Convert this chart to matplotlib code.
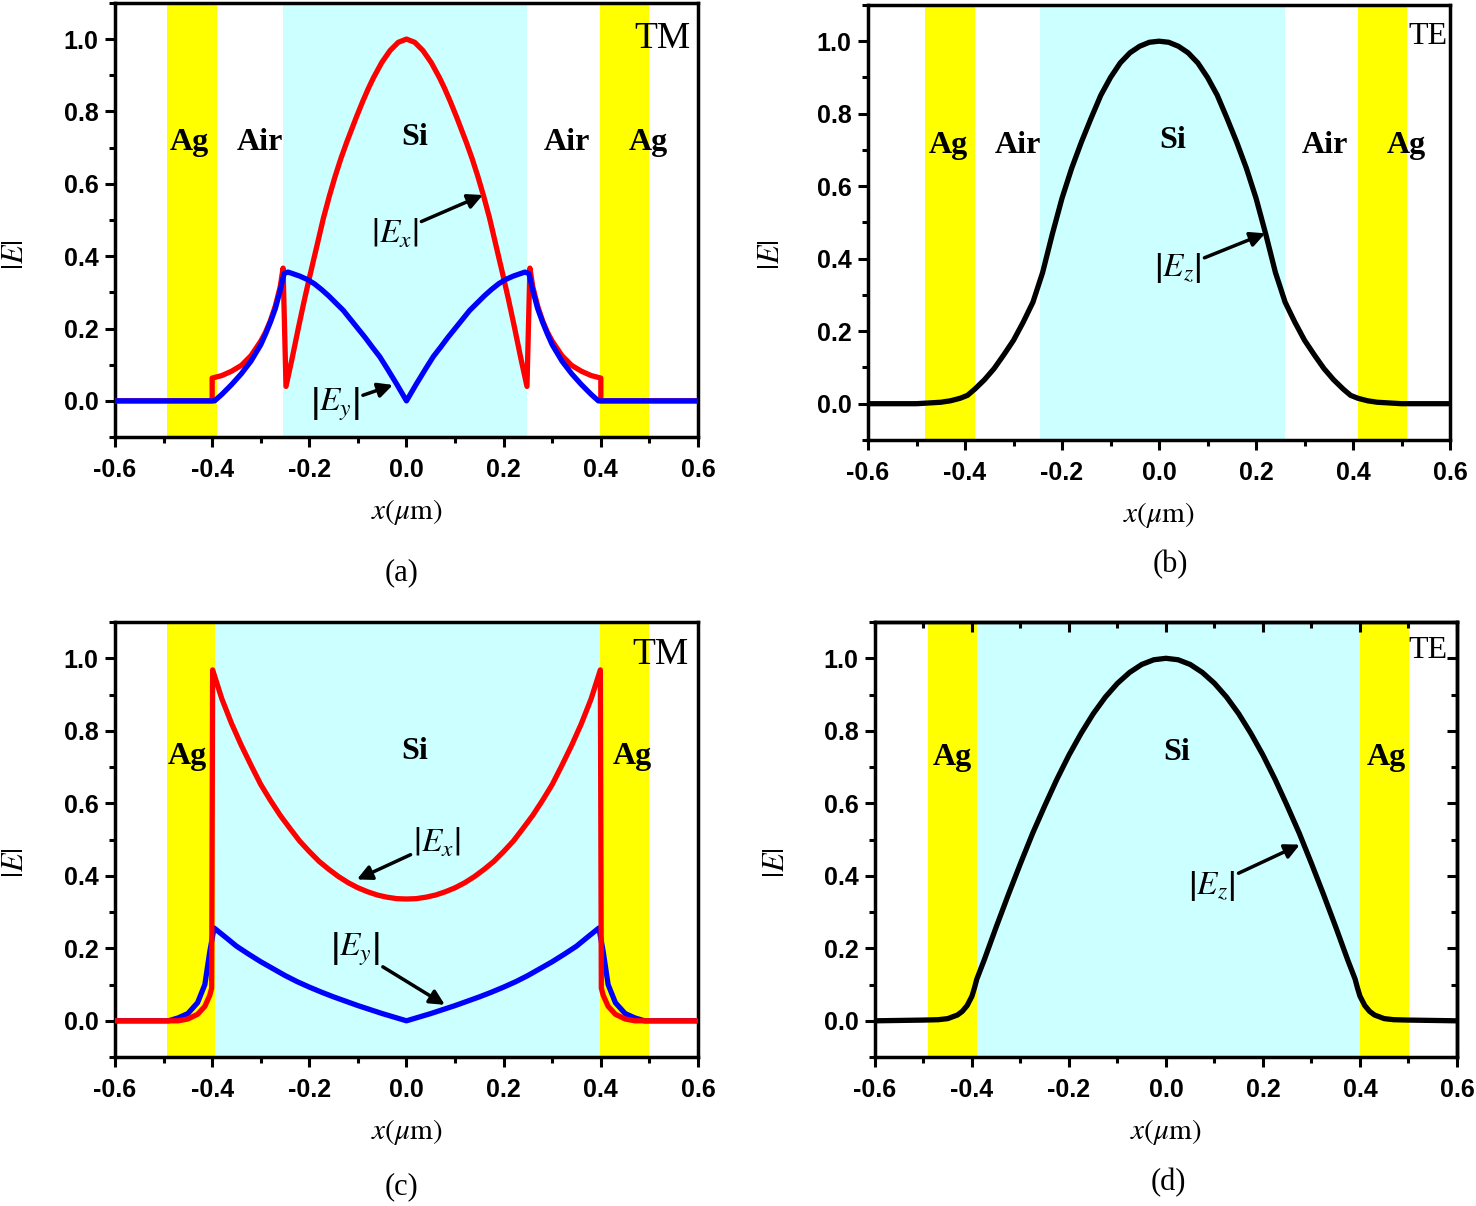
import matplotlib
matplotlib.use("Agg")
import matplotlib.pyplot as plt
from matplotlib.ticker import MultipleLocator, FormatStrFormatter, NullFormatter

plt.rcParams['mathtext.fontset'] = 'stix'
plt.rcParams['axes.unicode_minus'] = False

# ---- data ----
# (a) TM, Ag / Air / Si / Air / Ag
a_ex_x = [-0.6, -0.40, -0.40, -0.38, -0.36, -0.34, -0.32, -0.30, -0.29, -0.28, -0.27, -0.26, -0.254,
          -0.248, -0.235, -0.222, -0.21, -0.199, -0.185, -0.171, -0.159, -0.147, -0.135, -0.123,
          -0.113, -0.103, -0.09, -0.078, -0.068, -0.051, -0.034, -0.017, 0.0,
          0.017, 0.034, 0.051, 0.068, 0.078, 0.09, 0.103, 0.113, 0.123, 0.135, 0.147, 0.159,
          0.171, 0.185, 0.199, 0.21, 0.222, 0.235, 0.248,
          0.254, 0.26, 0.27, 0.28, 0.29, 0.30, 0.32, 0.34, 0.36, 0.38, 0.40, 0.40, 0.6]
a_ex_y = [0.0, 0.0, 0.063, 0.07, 0.082, 0.098, 0.125, 0.165, 0.19, 0.222, 0.262, 0.315, 0.367,
          0.04, 0.12, 0.205, 0.28, 0.345, 0.425, 0.505, 0.565, 0.62, 0.67, 0.715,
          0.75, 0.785, 0.828, 0.865, 0.893, 0.935, 0.968, 0.991, 1.0,
          0.991, 0.968, 0.935, 0.893, 0.865, 0.828, 0.785, 0.75, 0.715, 0.67, 0.62, 0.565,
          0.505, 0.425, 0.345, 0.28, 0.205, 0.12, 0.04,
          0.367, 0.315, 0.262, 0.222, 0.19, 0.165, 0.125, 0.098, 0.082, 0.07, 0.063, 0.0, 0.0]
a_ey_x = [-0.6, -0.395, -0.38, -0.36, -0.34, -0.32, -0.30, -0.29, -0.28, -0.27, -0.26, -0.252,
          -0.244, -0.235, -0.22, -0.205, -0.19, -0.175, -0.16, -0.145, -0.13, -0.115, -0.10,
          -0.085, -0.07, -0.055, -0.04, -0.02, 0.0,
          0.02, 0.04, 0.055, 0.07, 0.085, 0.10, 0.115, 0.13, 0.145, 0.16, 0.175, 0.19,
          0.205, 0.22, 0.235, 0.244,
          0.252, 0.26, 0.27, 0.28, 0.29, 0.30, 0.32, 0.34, 0.36, 0.38, 0.395, 0.6]
a_ey_y = [0.0, 0.0, 0.018, 0.045, 0.075, 0.11, 0.155, 0.185, 0.218, 0.255, 0.305, 0.352,
          0.356, 0.352, 0.345, 0.336, 0.324, 0.308, 0.29, 0.27, 0.25, 0.225, 0.2,
          0.175, 0.148, 0.122, 0.09, 0.046, 0.0,
          0.046, 0.09, 0.122, 0.148, 0.175, 0.2, 0.225, 0.25, 0.27, 0.29, 0.308, 0.324,
          0.336, 0.345, 0.352, 0.356,
          0.352, 0.305, 0.255, 0.218, 0.185, 0.155, 0.11, 0.075, 0.045, 0.018, 0.0, 0.0]

# (b) TE
b_ez_x = [-0.6, -0.50, -0.45, -0.43, -0.41, -0.395, -0.38, -0.36, -0.34, -0.32, -0.30, -0.28,
          -0.26, -0.24, -0.22, -0.20, -0.18, -0.16, -0.14, -0.12, -0.10, -0.08, -0.06,
          -0.04, -0.02, 0.0,
          0.02, 0.04, 0.06, 0.08, 0.10, 0.12, 0.14, 0.16, 0.18, 0.20, 0.22, 0.24,
          0.26, 0.28, 0.30, 0.32, 0.34, 0.36, 0.38, 0.395, 0.41, 0.43, 0.45, 0.50, 0.6]
b_ez_y = [0.0, 0.0, 0.004, 0.008, 0.015, 0.023, 0.04, 0.066, 0.097, 0.135, 0.175, 0.225,
          0.28, 0.362, 0.468, 0.567, 0.65, 0.722, 0.788, 0.851, 0.90, 0.94, 0.968,
          0.986, 0.997, 1.0,
          0.997, 0.986, 0.968, 0.94, 0.90, 0.851, 0.788, 0.722, 0.65, 0.567, 0.468, 0.362,
          0.28, 0.225, 0.175, 0.135, 0.097, 0.066, 0.04, 0.023, 0.015, 0.008, 0.004, 0.0, 0.0]

# (c) TM, Ag / Si / Ag
c_ex_x = [-0.6, -0.47, -0.45, -0.43, -0.415, -0.405, -0.401, -0.399,
          -0.38, -0.36, -0.34, -0.32, -0.30, -0.28, -0.26, -0.24, -0.22, -0.20, -0.18,
          -0.16, -0.14, -0.12, -0.10, -0.08, -0.06, -0.04, -0.02, 0.0,
          0.02, 0.04, 0.06, 0.08, 0.10, 0.12, 0.14, 0.16, 0.18, 0.20, 0.22, 0.24, 0.26,
          0.28, 0.30, 0.32, 0.34, 0.36, 0.38,
          0.399, 0.401, 0.405, 0.415, 0.43, 0.45, 0.47, 0.6]
c_ex_y = [0.0, 0.0, 0.005, 0.018, 0.04, 0.07, 0.09, 0.968,
          0.888, 0.82, 0.76, 0.705, 0.652, 0.608, 0.567, 0.531, 0.496, 0.467, 0.44,
          0.418, 0.398, 0.381, 0.367, 0.356, 0.347, 0.341, 0.337, 0.336,
          0.337, 0.341, 0.347, 0.356, 0.367, 0.381, 0.398, 0.418, 0.44, 0.467, 0.496, 0.531, 0.567,
          0.608, 0.652, 0.705, 0.76, 0.82, 0.888,
          0.968, 0.09, 0.07, 0.04, 0.018, 0.005, 0.0, 0.0]
c_ey_x = [-0.6, -0.49, -0.47, -0.45, -0.43, -0.415, -0.405, -0.396,
          -0.37, -0.35, -0.325, -0.30, -0.275, -0.25, -0.225, -0.20, -0.175, -0.15, -0.125,
          -0.10, -0.075, -0.05, -0.025, 0.0,
          0.025, 0.05, 0.075, 0.10, 0.125, 0.15, 0.175, 0.20, 0.225, 0.25, 0.275, 0.30,
          0.325, 0.35, 0.37,
          0.396, 0.405, 0.415, 0.43, 0.45, 0.47, 0.49, 0.6]
c_ey_y = [0.0, 0.0, 0.008, 0.02, 0.05, 0.10, 0.19, 0.256,
          0.228, 0.206, 0.184, 0.163, 0.144, 0.125, 0.108, 0.093, 0.079, 0.066, 0.054,
          0.042, 0.031, 0.02, 0.01, 0.0,
          0.01, 0.02, 0.031, 0.042, 0.054, 0.066, 0.079, 0.093, 0.108, 0.125, 0.144, 0.163,
          0.184, 0.206, 0.228,
          0.256, 0.19, 0.10, 0.05, 0.02, 0.008, 0.0, 0.0]

# (d) TE
d_ez_x = [-0.6, -0.5, -0.47, -0.45, -0.43, -0.42, -0.41, -0.40, -0.395, -0.39,
          -0.375, -0.35, -0.325, -0.30, -0.275, -0.25, -0.225, -0.20, -0.175, -0.15, -0.125,
          -0.10, -0.075, -0.05, -0.025, 0.0,
          0.025, 0.05, 0.075, 0.10, 0.125, 0.15, 0.175, 0.20, 0.225, 0.25, 0.275, 0.30,
          0.325, 0.35, 0.375,
          0.39, 0.395, 0.40, 0.41, 0.42, 0.43, 0.45, 0.47, 0.5, 0.6]
d_ez_y = [0.0, 0.002, 0.003, 0.006, 0.016, 0.026, 0.042, 0.068, 0.09, 0.115,
          0.167, 0.259, 0.348, 0.434, 0.517, 0.593, 0.666, 0.733, 0.793, 0.847, 0.893,
          0.931, 0.961, 0.983, 0.996, 1.0,
          0.996, 0.983, 0.961, 0.931, 0.893, 0.847, 0.793, 0.733, 0.666, 0.593, 0.517, 0.434,
          0.348, 0.259, 0.167,
          0.115, 0.09, 0.068, 0.042, 0.026, 0.016, 0.006, 0.003, 0.002, 0.0]

# layer boundaries (um)
a_ag = [(-0.493, -0.39), (0.398, 0.499)]
a_si = (-0.254, 0.248)
b_ag = [(-0.482, -0.379), (0.41, 0.511)]
b_si = (-0.245, 0.26)
c_ag = [(-0.493, -0.394), (0.398, 0.499)]
c_si = (-0.394, 0.398)
d_ag = [(-0.491, -0.39), (0.401, 0.502)]
d_si = (-0.39, 0.401)

YELLOW = '#FFFF00'
CYAN = '#CCFFFF'
SANS = 'Liberation Sans'
SERIF = 'Liberation Serif'

fig = plt.figure(figsize=(14.76, 12.06), dpi=100)
ax_a = fig.add_axes([0.0779, 0.6376, 0.395, 0.36])
ax_b = fig.add_axes([0.5881, 0.6352, 0.3943, 0.3607])
ax_c = fig.add_axes([0.0779, 0.1235, 0.395, 0.3607])
ax_d = fig.add_axes([0.5928, 0.1235, 0.3943, 0.3607])


def setup(ax, ag, si, ylab_x, ylab_y):
    for lo, hi in ag:
        ax.axvspan(lo, hi, color=YELLOW, lw=0, zorder=0)
    ax.axvspan(si[0], si[1], color=CYAN, lw=0, zorder=0)
    ax.set_xlim(-0.6, 0.6)
    ax.set_ylim(-0.1, 1.1)
    ax.xaxis.set_major_locator(MultipleLocator(0.2))
    ax.xaxis.set_minor_locator(MultipleLocator(0.1))
    ax.yaxis.set_minor_locator(MultipleLocator(0.1))
    ax.set_yticks([0.0, 0.2, 0.4, 0.6, 0.8, 1.0])
    ax.xaxis.set_major_formatter(FormatStrFormatter('%.1f'))
    ax.yaxis.set_major_formatter(FormatStrFormatter('%.1f'))
    for s in ax.spines.values():
        s.set_linewidth(2.5)
    ax.tick_params(which='major', direction='out', length=7, width=2.2)
    ax.tick_params(which='minor', direction='out', length=4, width=2.2)
    ax.tick_params(axis='x', which='major', pad=8)
    ax.tick_params(axis='y', which='major', pad=5)
    for lab in ax.get_xticklabels() + ax.get_yticklabels():
        lab.set_fontfamily(SANS)
        lab.set_fontweight('bold')
        lab.set_fontsize(18)
    ax.set_xlabel(r'$x(\mu\mathrm{m})$', fontsize=21, labelpad=11)
    ax.set_ylabel(r'$\left|E\right|$', fontsize=22)
    ax.yaxis.set_label_coords(ylab_x, ylab_y)


def layer_text(ax, items):
    for x, y, s in items:
        ax.text(x, y, s, ha='center', va='center', fontsize=23,
                fontfamily=SERIF, fontweight='bold', zorder=5)


arrow = dict(arrowstyle='-|>', color='k', lw=2.5, mutation_scale=22, shrinkA=0, shrinkB=0)
EX = r'$\left|E_x\right|$'
EY = r'$\left|E_y\right|$'
EZ = r'$\left|E_z\right|$'

# (a)
setup(ax_a, a_ag, a_si, -0.148, 0.42)
ax_a.plot(a_ex_x, a_ex_y, color='#FF0000', lw=3.8, zorder=3)
ax_a.plot(a_ey_x, a_ey_y, color='#0000FF', lw=3.8, zorder=4)
layer_text(ax_a, [(-0.446, 0.713, 'Ag'), (-0.302, 0.713, 'Air'), (0.017, 0.727, 'Si'),
                  (0.330, 0.713, 'Air'), (0.497, 0.713, 'Ag')])
ax_a.text(0.526, 1.0, 'TM', ha='center', va='center', fontsize=27, fontfamily=SERIF)
ax_a.annotate(EX, xy=(0.157, 0.569), xytext=(-0.024, 0.464), fontsize=24,
              ha='center', va='center', arrowprops=arrow, zorder=6)
ax_a.annotate(EY, xy=(-0.028, 0.044), xytext=(-0.147, -0.011), fontsize=24,
              ha='center', va='center', arrowprops=arrow, zorder=6)

# (b)
setup(ax_b, b_ag, b_si, -0.143, 0.425)
ax_b.plot(b_ez_x, b_ez_y, color='k', lw=3.8, zorder=3)
layer_text(ax_b, [(-0.435, 0.713, 'Ag'), (-0.291, 0.713, 'Air'), (0.029, 0.727, 'Si'),
                  (0.342, 0.713, 'Air'), (0.509, 0.713, 'Ag')])
ax_b.text(0.555, 1.014, 'TE', ha='center', va='center', fontsize=23, fontfamily=SERIF)
ax_b.annotate(EZ, xy=(0.219, 0.47), xytext=(0.039, 0.373), fontsize=24,
              ha='center', va='center', arrowprops=arrow, zorder=6)

# (c)
setup(ax_c, c_ag, c_si, -0.148, 0.448)
ax_c.plot(c_ey_x, c_ey_y, color='#0000FF', lw=3.8, zorder=3)
ax_c.plot(c_ex_x, c_ex_y, color='#FF0000', lw=3.8, zorder=4)
layer_text(ax_c, [(-0.452, 0.729, 'Ag'), (0.017, 0.743, 'Si'), (0.464, 0.729, 'Ag')])
ax_c.text(0.522, 1.011, 'TM', ha='center', va='center', fontsize=27, fontfamily=SERIF)
ax_c.annotate(EX, xy=(-0.102, 0.39), xytext=(0.063, 0.492), fontsize=24,
              ha='center', va='center', arrowprops=arrow, zorder=6)
ax_c.annotate(EY, xy=(0.079, 0.044), xytext=(-0.106, 0.196), fontsize=24,
              ha='center', va='center', arrowprops=arrow, zorder=6)

# (d) - this one also has inward ticks on top and right
setup(ax_d, d_ag, d_si, -0.146, 0.448)
sec_x = ax_d.secondary_xaxis('top')
sec_x.xaxis.set_major_locator(MultipleLocator(0.2))
sec_x.xaxis.set_minor_locator(MultipleLocator(0.1))
sec_x.xaxis.set_major_formatter(NullFormatter())
sec_x.tick_params(which='major', direction='in', length=7, width=2.2)
sec_x.tick_params(which='minor', direction='in', length=4, width=2.2)
sec_y = ax_d.secondary_yaxis('right')
sec_y.yaxis.set_major_locator(MultipleLocator(0.2))
sec_y.yaxis.set_minor_locator(MultipleLocator(0.1))
sec_y.yaxis.set_major_formatter(NullFormatter())
sec_y.tick_params(which='major', direction='in', length=7, width=2.2)
sec_y.tick_params(which='minor', direction='in', length=4, width=2.2)
for sec in (sec_x, sec_y):
    for s in sec.spines.values():
        s.set_linewidth(2.5)
ax_d.plot(d_ez_x, d_ez_y, color='k', lw=3.8, zorder=3)
layer_text(ax_d, [(-0.441, 0.727, 'Ag'), (0.023, 0.740, 'Si'), (0.454, 0.727, 'Ag')])
ax_d.text(0.540, 1.022, 'TE', ha='center', va='center', fontsize=23, fontfamily=SERIF)
ax_d.annotate(EZ, xy=(0.276, 0.486), xytext=(0.095, 0.373), fontsize=24,
              ha='center', va='center', arrowprops=arrow, zorder=6)

# panel letters
for x, y, s in [(402, 573, '(a)'), (1170, 565, '(b)'), (402, 1187, '(c)'), (1168, 1183, '(d)')]:
    fig.text(x / 1476, 1 - y / 1206, s, ha='center', va='center', fontsize=22, fontfamily=SERIF)

fig.savefig('out.png', dpi=100)
